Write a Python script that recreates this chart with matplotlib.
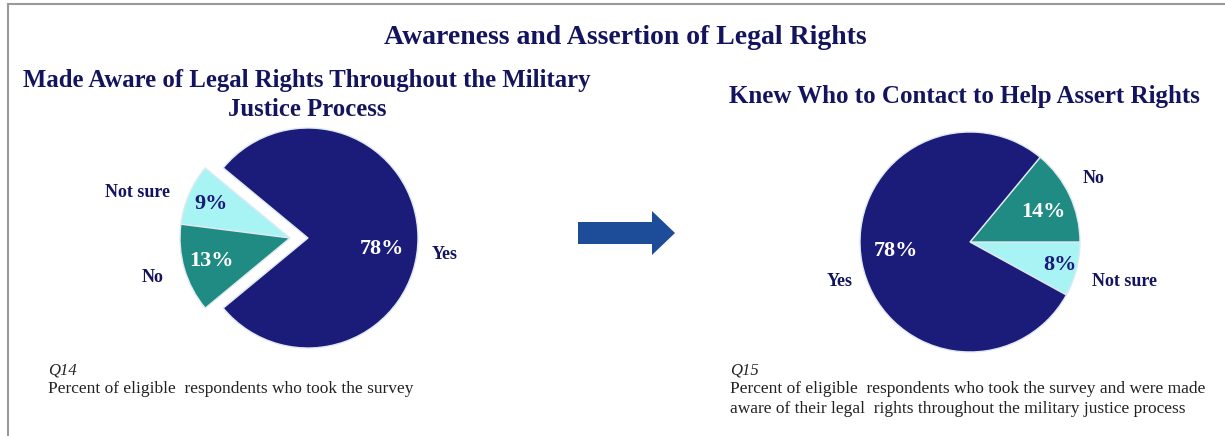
"""Two pie charts on awareness and assertion of legal rights."""

import math

import matplotlib

matplotlib.use("Agg")
import matplotlib.pyplot as plt
from matplotlib.lines import Line2D
from matplotlib.patches import FancyArrow

# Q14: made aware of legal rights
q14_labels = ["Not sure", "No", "Yes"]
q14_values = [9, 13, 78]

# Q15: knew who to contact
q15_labels = ["Not sure", "No", "Yes"]
q15_values = [8, 14, 78]

main_title = "Awareness and Assertion of Legal Rights"
left_title = "Made Aware of Legal Rights Throughout the Military\nJustice Process"
right_title = "Knew Who to Contact to Help Assert Rights"
left_note = ("Q14", "Percent of eligible  respondents who took the survey")
right_note = (
    "Q15",
    "Percent of eligible  respondents who took the survey and were made\n"
    "aware of their legal  rights throughout the military justice process",
)

W, H = 1225, 436
NAVY = "#1b1b7a"
TEAL = "#1f8b82"
CYAN = "#a8f4f4"
TITLE = "#14145e"
colors = {"Yes": NAVY, "No": TEAL, "Not sure": CYAN}
pct_colors = {"Yes": "white", "No": "white", "Not sure": NAVY}

plt.rcParams["font.family"] = ["Liberation Serif", "DejaVu Serif"]

fig = plt.figure(figsize=(W / 100, H / 100), dpi=100)
ax = fig.add_axes([0, 0, 1, 1])


def py(y):
    return H - y


def polar(cx, cy, radius, angle_deg, dist):
    a = math.radians(angle_deg)
    return cx + dist * radius * math.cos(a), cy + dist * radius * math.sin(a)


def draw_pie(values, labels, center, radius, startangle, shift,
             label_pos, pct_pos):
    # label_pos / pct_pos: (distance in radii, angle offset from slice middle)
    wedges, _ = ax.pie(
        values,
        colors=[colors[name] for name in labels],
        startangle=startangle,
        counterclock=True,
        center=center,
        radius=radius,
        wedgeprops=dict(edgecolor="#dfe9f2", linewidth=1.0),
    )
    total = sum(values)
    angle = startangle
    for wedge, value, name, (ld, la), (pd, pa) in zip(
            wedges, values, labels, label_pos, pct_pos):
        span = 360.0 * value / total
        mid = angle + span / 2
        angle += span
        cx, cy = center
        if name != "Yes":
            cx += shift
            wedge.set_center((cx, cy))
        ax.text(*polar(cx, cy, radius, mid + la, ld), name, ha="center",
                va="center", fontsize=13, fontweight="bold", color=TITLE)
        ax.text(*polar(cx, cy, radius, mid + pa, pd), f"{value}%",
                ha="center", va="center", fontsize=16, fontweight="bold",
                color=pct_colors[name])


# left pie: small slices pulled out to the left together
q14_start = 180 - 180 * (q14_values[0] + q14_values[1]) / 100
draw_pie(q14_values, q14_labels, (308, py(238)), 110, q14_start, -18,
         label_pos=[(1.45, 6.7), (1.30, 0), (1.25, -7)],
         pct_pos=[(0.78, 0), (0.74, 0), (0.68, -8.5)])

# right pie
q15_start = -360 * q15_values[0] / 100
draw_pie(q15_values, q15_labels, (970, py(242)), 110, q15_start, 0,
         label_pos=[(1.45, 0), (1.26, 2), (1.24, 6)],
         pct_pos=[(0.84, 0), (0.72, -3), (0.68, -4)])

ax.add_patch(FancyArrow(578, py(233), 97, 0, width=22, head_width=44,
                        head_length=23, length_includes_head=True,
                        color="#1d4c98", linewidth=0))

ax.set_xlim(0, W)
ax.set_ylim(0, H)
ax.set_aspect("auto")
ax.axis("off")

fig.text(625 / W, 1 - 37 / H, main_title, ha="center", va="center",
         fontsize=20, fontweight="bold", color=TITLE)
fig.text(307 / W, 1 - 95 / H, left_title, ha="center", va="center",
         fontsize=17.8, fontweight="bold", color=TITLE, linespacing=1.3)
fig.text(964 / W, 1 - 97 / H, right_title, ha="center", va="center",
         fontsize=18, fontweight="bold", color=TITLE)

for x0, (qid, body) in ((48, left_note), (730, right_note)):
    fig.text(x0 / W, 1 - 370 / H, qid, ha="left", va="center",
             fontsize=12, style="italic", color="#222222")
    fig.text(x0 / W, 1 - 381 / H, body, ha="left", va="top",
             fontsize=12.5, color="#222222", linespacing=1.3)

# panel frame (left and top edges)
fig.add_artist(Line2D([8 / W, 8 / W], [0, 1 - 4 / H], color="#9a9a9a",
                      linewidth=1.5, transform=fig.transFigure))
fig.add_artist(Line2D([8 / W, 1], [1 - 4 / H, 1 - 4 / H], color="#9a9a9a",
                      linewidth=1.5, transform=fig.transFigure))

fig.savefig("out.png", dpi=100)
